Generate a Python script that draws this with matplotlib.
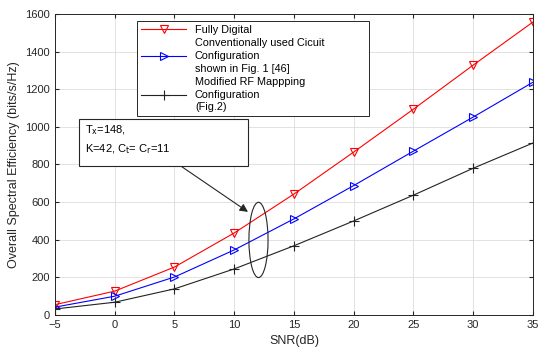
import numpy as np
import matplotlib.pyplot as plt
from matplotlib.patches import Ellipse, Rectangle

plt.rcParams['font.family'] = ['Liberation Sans', 'DejaVu Sans']
plt.rcParams['font.size'] = 8

# data
snr = [-5, 0, 5, 10, 15, 20, 25, 30, 35]
fully_digital = [55, 127, 255, 436, 643, 866, 1094, 1328, 1557]
conventional = [42, 100, 202, 346, 511, 688, 871, 1052, 1237]
modified_rf = [32, 68, 139, 245, 368, 500, 637, 780, 914]

labels = ["Fully Digital",
          "Conventionally used Cicuit\nConfiguration\nshown in Fig. 1 [46]",
          "Modified RF Mappping\nConfiguration\n(Fig.2)"]

fig = plt.figure(figsize=(5.5, 3.57), dpi=100)
ax = fig.add_axes([0.1, 0.1176, 0.869, 0.8434])

ax.plot(snr, fully_digital, color='red', lw=0.8, marker='v', ms=6,
        mfc='none', mew=0.8, label=labels[0])
ax.plot(snr, conventional, color='blue', lw=0.8, marker='>', ms=6,
        mfc='none', mew=0.8, label=labels[1])
ax.plot(snr, modified_rf, color='#222222', lw=0.8, marker='+', ms=7,
        mew=0.8, label=labels[2])

ax.set_xlim(-5, 35)
ax.set_ylim(0, 1600)
ax.set_xticks(np.arange(-5, 36, 5))
ax.set_yticks(np.arange(0, 1601, 200))
ax.grid(True, color='#dddddd', lw=0.6)
ax.tick_params(direction='in', top=True, right=True, length=3, colors='#262626')
for s in ax.spines.values():
    s.set_color('#262626')
    s.set_linewidth(0.7)
ax.set_xlabel("SNR(dB)", fontsize=9, color='#262626')
ax.set_ylabel("Overall Spectral Efficiency (bits/s/Hz)", fontsize=9, color='#262626')

# legend stretched to the wide MATLAB-style box
leg = ax.legend(loc='upper left', bbox_to_anchor=(0.1715, 0.5, 0.4855, 0.477),
                mode='expand', fancybox=False,
                edgecolor='#262626', framealpha=1, handlelength=4.2,
                fontsize=7.8, borderpad=0.35, labelspacing=0.35, borderaxespad=0)
leg.get_frame().set_linewidth(0.7)
for t in leg.get_texts():
    t.set_linespacing(1.32)

# annotation box
ax.add_patch(Rectangle((-3.0, 793), 14.15, 250, fill=True, fc='white',
                       ec='#262626', lw=0.8, zorder=5))
ax.text(-2.5, 982, r"T$_{\rm x}$=148,", fontsize=8, va='center', zorder=6)
ax.text(-2.5, 880, r"K=42, C$_{\rm t}$= C$_{\rm r}$=11", fontsize=8, va='center', zorder=6)

ax.add_patch(Ellipse((12.03, 399), 1.6, 400, fill=False, ec='#262626', lw=0.8, zorder=4))
ax.annotate("", xy=(11.15, 548), xytext=(5.5, 793),
            arrowprops=dict(arrowstyle='-|>', color='#262626', lw=0.8,
                            mutation_scale=12, shrinkA=0, shrinkB=0))

fig.savefig("out.png", dpi=100)
